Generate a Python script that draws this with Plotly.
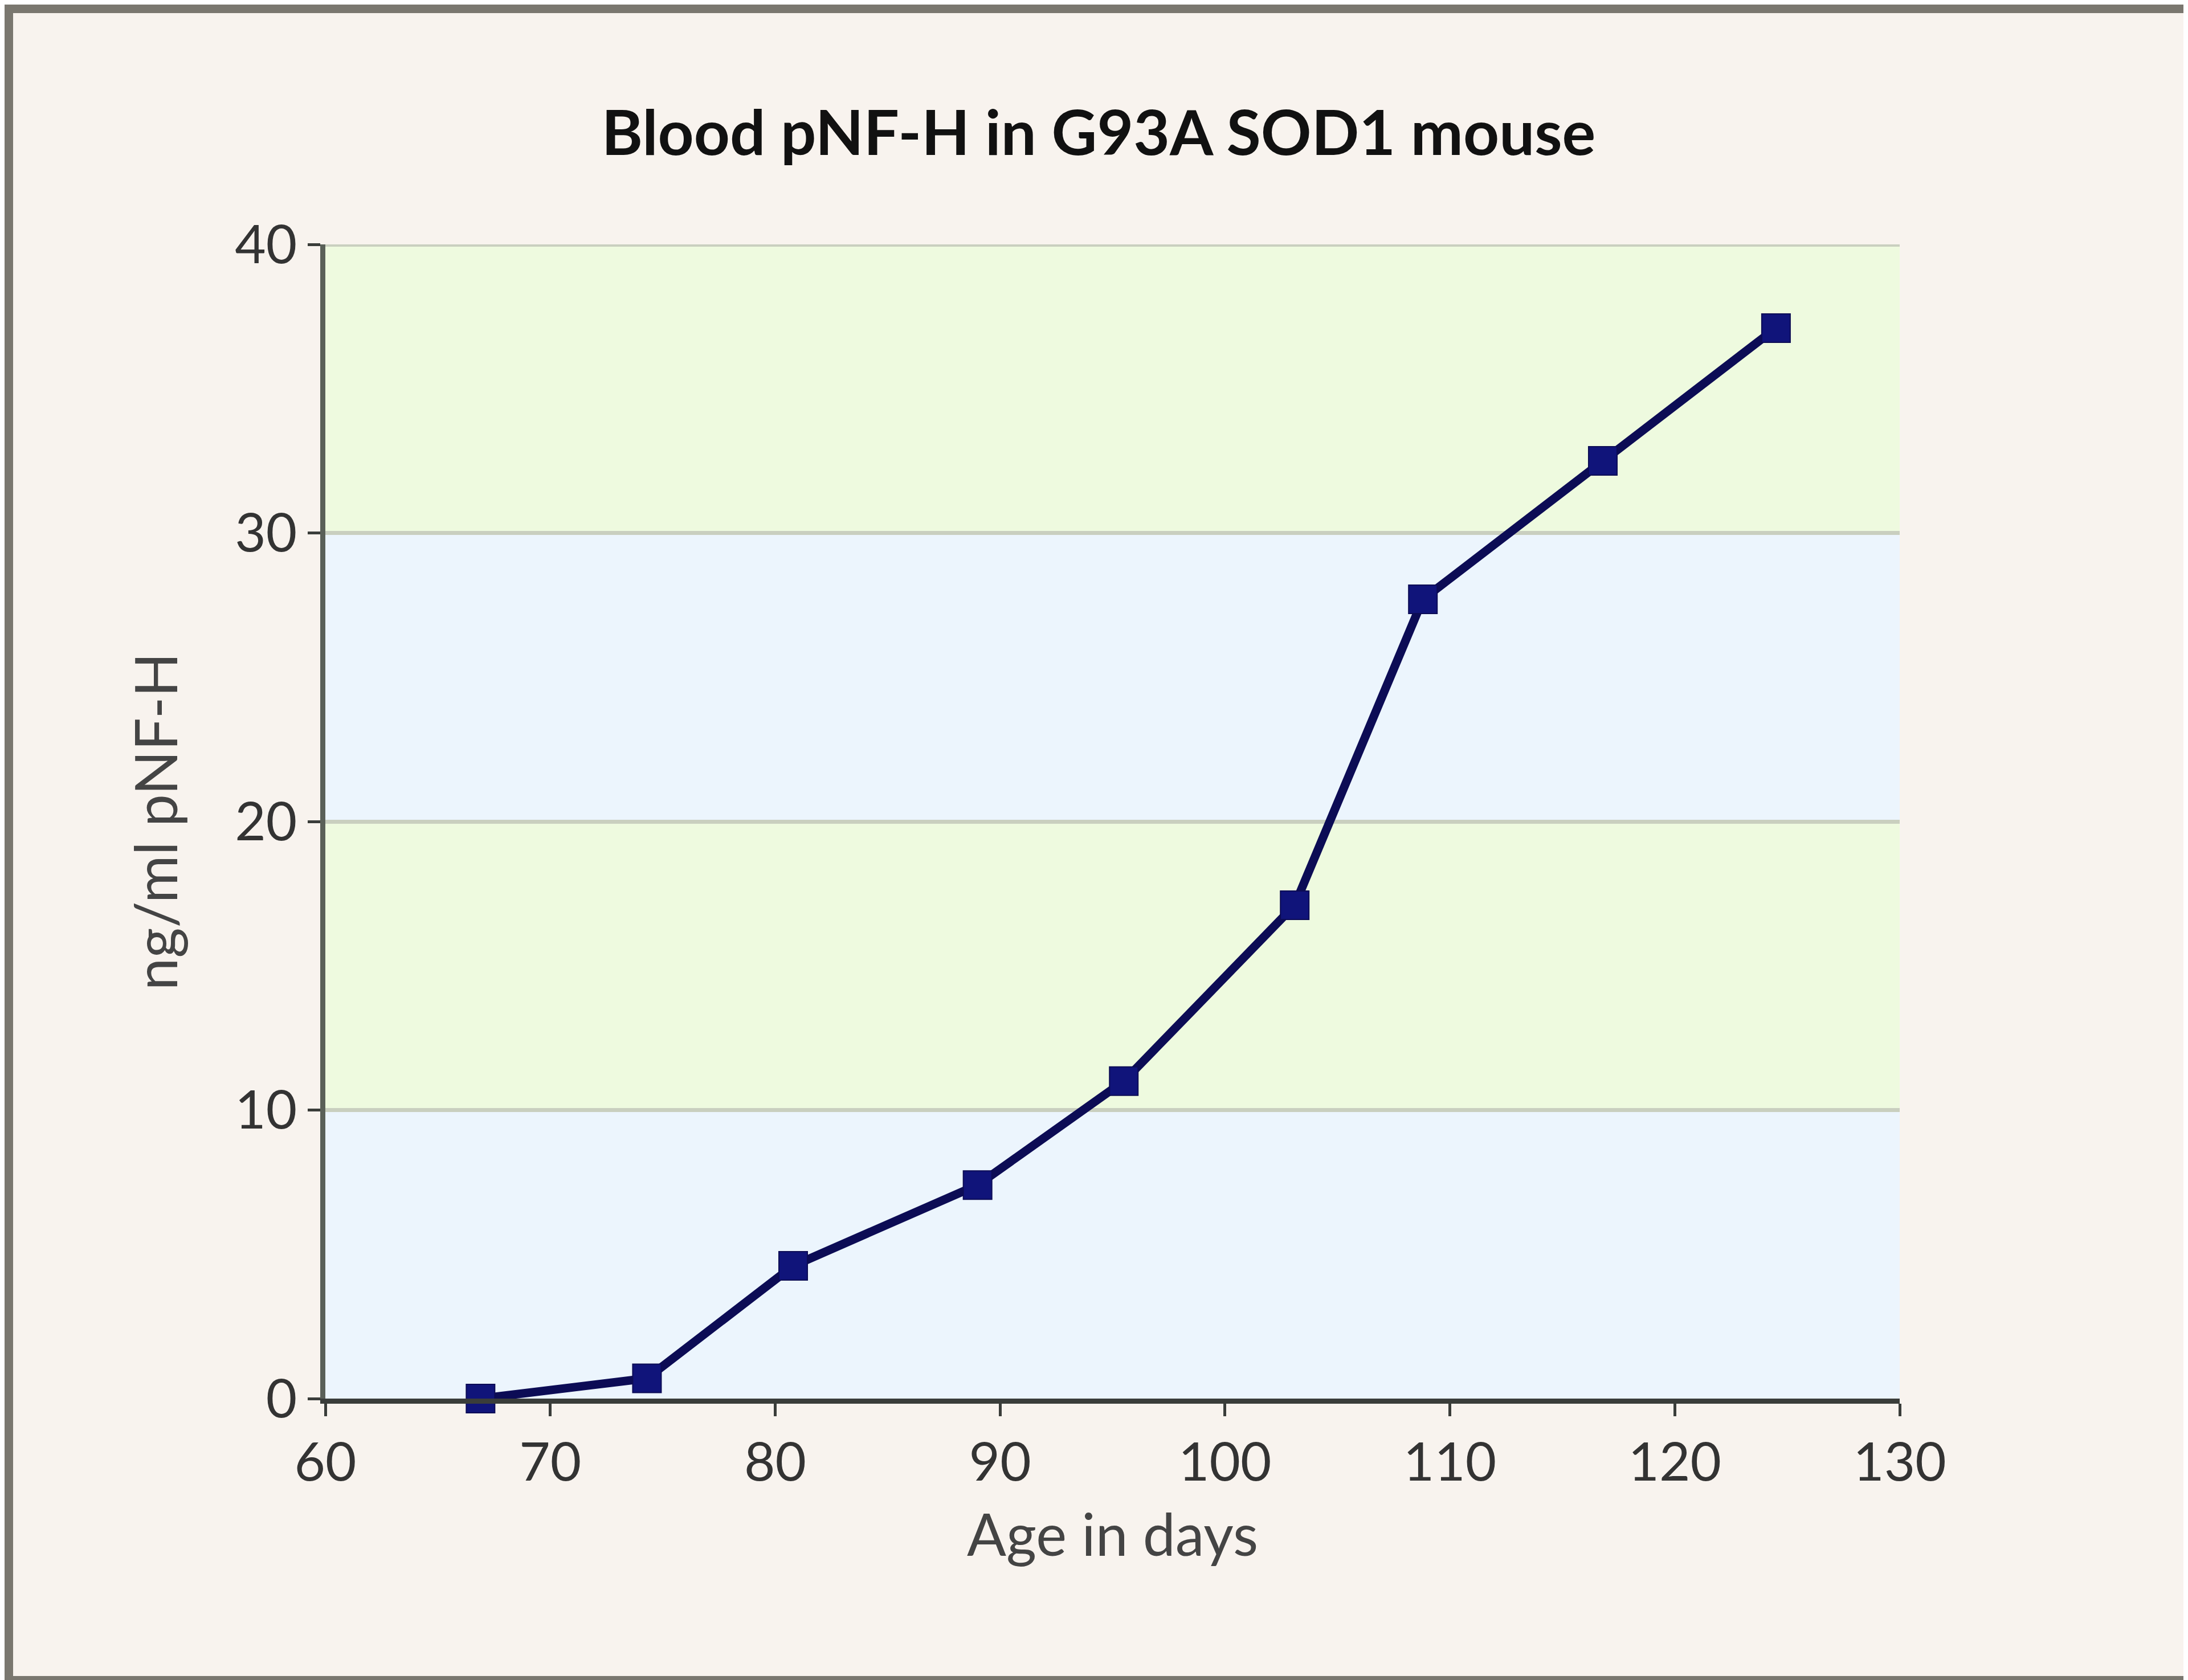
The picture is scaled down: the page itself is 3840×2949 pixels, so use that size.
import plotly.graph_objects as go

# Data
age_days = [66.9, 74.3, 80.8, 89.0, 95.5, 103.1, 108.8, 116.8, 124.5]
pnfh_ng_ml = [0.0, 0.7, 4.6, 7.4, 11.0, 17.1, 27.7, 32.5, 37.1]
x_ticks = [60, 70, 80, 90, 100, 110, 120, 130]
y_ticks = [0, 10, 20, 30, 40]
band_colors = ["#ecf5fd", "#eefadf"]

W, H = 3840, 2949
ML, MR, MT, MB = 563, 514, 421, 502
PW, PH = W - ML - MR, H - MT - MB

fig = go.Figure()
fig.add_trace(go.Scatter(
    x=age_days, y=pnfh_ng_ml, mode="lines+markers",
    line=dict(color="#0c0c55", width=15),
    marker=dict(symbol="square", size=50, color="#10147a",
                line=dict(color="#0c0c55", width=2)),
    showlegend=False, cliponaxis=False,
))

shapes = []
for i in range(len(y_ticks) - 1):
    shapes.append(dict(type="rect", xref="x", yref="y", layer="below",
                       x0=x_ticks[0], x1=x_ticks[-1], y0=y_ticks[i], y1=y_ticks[i + 1],
                       fillcolor=band_colors[i % 2], line=dict(width=0)))
# top gridline
shapes.append(dict(type="line", xref="x", yref="y", layer="below",
                   x0=x_ticks[0], x1=x_ticks[-1], y0=y_ticks[-1], y1=y_ticks[-1],
                   line=dict(color="#c9cfbf", width=8)))
# outer frame
shapes.append(dict(type="rect", xref="paper", yref="paper", layer="above",
                   x0=-ML / PW, x1=(W - ML) / PW, y0=-MB / PH, y1=(H - MB) / PH,
                   line=dict(color="#7a776f", width=30), fillcolor="rgba(0,0,0,0)"))

font_family = "Lato, 'Open Sans', sans-serif"
fig.update_layout(
    width=W, height=H,
    margin=dict(l=ML, r=MR, t=MT, b=MB),
    paper_bgcolor="#f8f3ee", plot_bgcolor="#f8f3ee",
    shapes=shapes,
    title=dict(text="<b>Blood pNF-H in G93A SOD1 mouse</b>", x=0.5, xanchor="center",
               y=1 - 225 / H, yanchor="middle",
               font=dict(family=font_family, size=110, color="#111111")),
    font=dict(family=font_family, color="#333333"),
)
fig.update_xaxes(
    range=[x_ticks[0], x_ticks[-1]], tickvals=x_ticks, ticktext=[str(v) for v in x_ticks],
    showgrid=False, zeroline=False, showline=True, linecolor="#3a3d3a", linewidth=9,
    ticks="outside", ticklen=22, tickwidth=5, tickcolor="#3a3d3a",
    tickfont=dict(size=94, color="#333333"),
    title=dict(text="Age in days", font=dict(size=102, color="#444444"), standoff=45),
)
fig.update_yaxes(
    range=[y_ticks[0], y_ticks[-1]], tickvals=y_ticks, ticktext=[str(v) for v in y_ticks],
    showgrid=True, gridcolor="#c9cfbf", gridwidth=7, zeroline=False,
    showline=True, linecolor="#5a6058", linewidth=9,
    ticks="outside", ticklen=22, tickwidth=5, tickcolor="#3a3d3a",
    tickfont=dict(size=94, color="#333333"),
    title=dict(text="ng/ml pNF-H", font=dict(size=102, color="#444444"), standoff=70),
)
fig.write_html("out.html")
